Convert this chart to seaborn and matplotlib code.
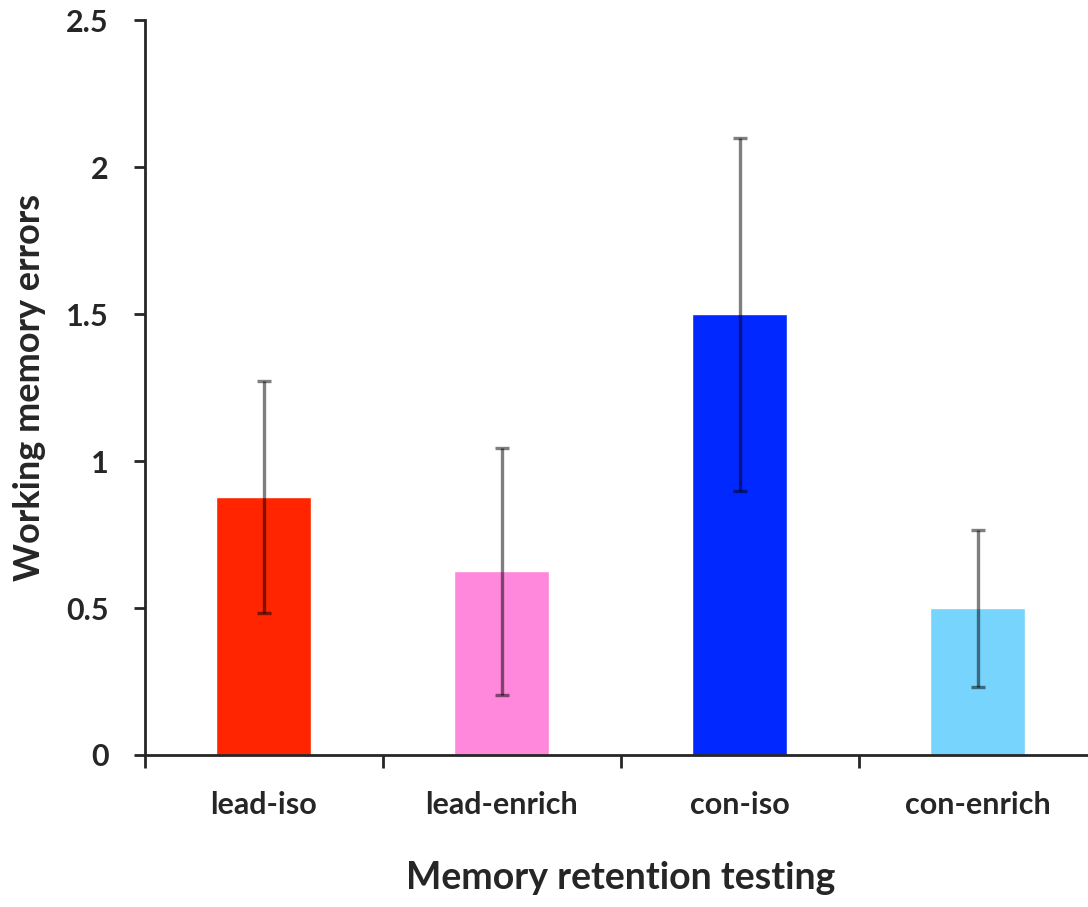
import matplotlib
matplotlib.use("Agg")
import matplotlib.pyplot as plt
import seaborn as sns
import pandas as pd
from matplotlib.ticker import FormatStrFormatter, FixedLocator

groups = ["lead-iso", "lead-enrich", "con-iso", "con-enrich"]
errors_mean = [0.877, 0.625, 1.5, 0.5]
errors_sem = [0.395, 0.42, 0.6, 0.267]
bar_colors = ["#FF2500", "#FF88DC", "#0028FF", "#77D4FC"]

sns.set_style("ticks")
plt.rcParams["font.family"] = ["Lato", "DejaVu Sans"]
plt.rcParams["font.weight"] = "bold"

df = pd.DataFrame({"group": groups, "errors": errors_mean})

fig = plt.figure(figsize=(10.88, 9.07), dpi=100)
ax = fig.add_axes([0.133, 0.1676, 0.875, 0.810])

sns.barplot(data=df, x="group", y="errors", hue="group", palette=bar_colors,
            width=0.4, legend=False, errorbar=None, ax=ax, saturation=1)
ax.errorbar(range(len(groups)), errors_mean, yerr=errors_sem, fmt="none",
            ecolor="black", alpha=0.5, elinewidth=2.4, capsize=5, capthick=2.4)

ax.set_xlim(-0.5, 3.5)
ax.set_ylim(0, 2.5)
ax.set_yticks([0, 0.5, 1, 1.5, 2, 2.5])
ax.yaxis.set_major_formatter(FormatStrFormatter("%g"))
ax.xaxis.set_minor_locator(FixedLocator([-0.5, 0.5, 1.5, 2.5, 3.5]))
ax.tick_params(axis="x", which="major", length=0, pad=26, labelsize=22)
ax.tick_params(axis="x", which="minor", length=9, width=2, direction="out")
ax.tick_params(axis="y", length=8, width=2, pad=18, labelsize=22)
for lab in ax.get_xticklabels() + ax.get_yticklabels():
    lab.set_fontweight("bold")

for s in ["top", "right"]:
    ax.spines[s].set_visible(False)
for s in ["left", "bottom"]:
    ax.spines[s].set_linewidth(2)

ax.set_xlabel("Memory retention testing", fontsize=27, fontweight="bold", labelpad=30)
ax.set_ylabel("Working memory errors", fontsize=26, fontweight="bold", labelpad=14)

fig.savefig("out.png", dpi=100)
